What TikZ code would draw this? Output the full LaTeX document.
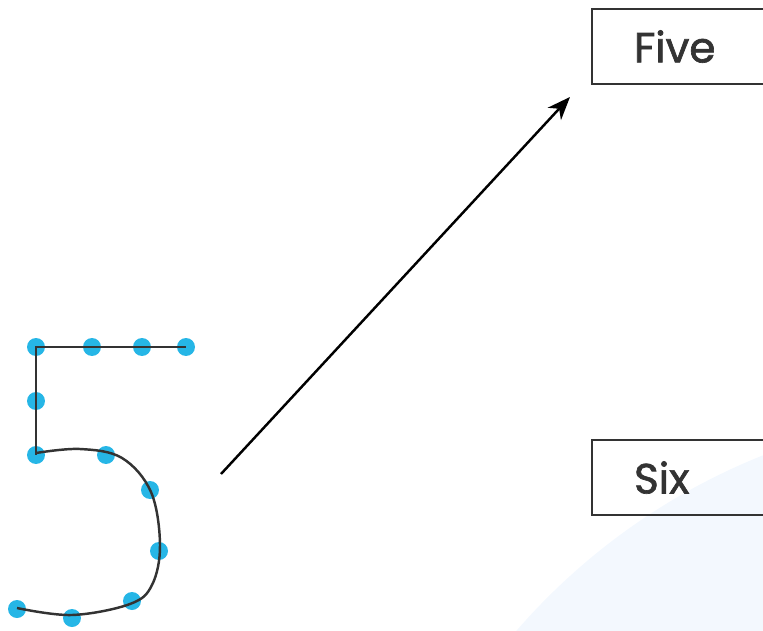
\documentclass[tikz,border=0pt]{standalone}
\usepackage{fontspec}
\setmainfont{Poppins}[FakeBold=1.6]
\usetikzlibrary{arrows.meta}

\definecolor{dotblue}{RGB}{38,182,230}
\definecolor{boxline}{RGB}{51,51,51}
\definecolor{haze}{RGB}{243,248,254}

\begin{document}
\begin{tikzpicture}
            [x=0.02cm,y=-0.02cm,>={Stealth[length=0.46cm,width=0.36cm,inset=0.14cm]},
             dot/.style={circle,fill=dotblue,inner sep=0pt,minimum size=0.36cm},
             wordbox/.style={draw=boxline,line width=1.2pt,anchor=north west,
               minimum width=4.6cm,minimum height=1.5cm,text width=3.6cm,
               inner xsep=0.84cm,align=left,font=\fontsize{24}{26}\selectfont,text=black!80}]

            \clip (0,0) rectangle (763,631);
            \fill[haze] (1000,1050) circle (640);

            \node (five) [wordbox] at (591,8) {Five};
            \node (six) [wordbox] at (591,439) {Six};

            % the digit, dot by dot
            \node (d1) [dot] at (36,347) {};
            \node (d2) [dot] at (92,347) {};
            \node (d3) [dot] at (142,347) {};
            \node (d4) [dot] at (186,347) {};
            \node (d5) [dot] at (36,401) {};
            \node (d6) [dot] at (36,455) {};
            \node (d7) [dot] at (106,455) {};
            \node (d8) [dot] at (150,490) {};
            \node (d9) [dot] at (159,551) {};
            \node (d10) [dot] at (132,601) {};
            \node (d11) [dot] at (72,618) {};
            \node (d12) [dot] at (17,609) {};

            \draw[boxline,line width=1.4pt] (d4.center) -- (d1.center) -- (d6.center);
            \draw[boxline,line width=1.4pt] plot[smooth,tension=0.6] coordinates
              {(36,453) (80,449) (122,458) (151,492) (160,545) (152,585) (130,604) (72,615) (17,608)};

            \coordinate (tail) at (221,474);
            \coordinate (head) at (570,97);
            \draw[->,line width=1.4pt] (tail) -- (head);
        \end{tikzpicture}
\end{document}
